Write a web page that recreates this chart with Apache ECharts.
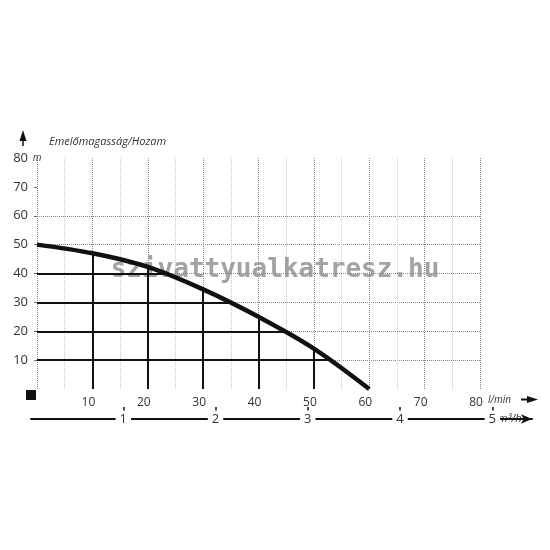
<!DOCTYPE html>
<html>
<head>
<meta charset="utf-8">
<script src="https://cdn.jsdelivr.net/npm/echarts@6/dist/echarts.min.js"></script>
<style>
html, body { margin: 0; padding: 0; background: #fff; }
#chart { width: 550px; height: 550px; }
</style>
</head>
<body>
<div id="chart"></div>
<script>
// pump curve: delivery height (m) vs flow (l/min)
var flowLpm = [0, 10, 20, 30, 40, 50, 60];
var headM = [50, 47, 42.3, 34.5, 25, 14, 0];

// solid guide lines under the curve
var dropX = [10, 20, 30, 40, 50];
var dropXTop = [47, 42.3, 34.5, 25, 14];
var dropY = [10, 20, 30, 40];
var dropYEnd = [52.5, 45, 35, 23];

// tick labels
var lpmLabels = [10, 20, 30, 40, 50, 60, 70, 80];
var headLabels = [10, 20, 30, 40, 50, 60, 70, 80];
var headTicks = [10, 20, 30, 40, 50, 60, 70];
var m3hLabels = [1, 2, 3, 4, 5];

var font = '"Open Sans", "Noto Sans", sans-serif';

var curve = flowLpm.map(function (x, i) { return [x, headM[i]]; });
var drops = [];
dropX.forEach(function (x, i) {
    drops.push([{ coord: [x, 0] }, { coord: [x, dropXTop[i]] }]);
});
dropY.forEach(function (y, i) {
    drops.push([{ coord: [0, y] }, { coord: [dropYEnd[i], y] }]);
});

var chart = echarts.init(document.getElementById('chart'), null, { renderer: 'canvas' });

chart.setOption({
    animation: false,
    backgroundColor: '#fff',
    title: {
        text: 'Emelőmagasság/Hozam',
        left: 44, top: 131,
        textStyle: { fontFamily: font, fontStyle: 'italic', fontWeight: 'normal', fontSize: 11, color: '#333' }
    },
    grid: [
        { left: 37, right: 70, top: 158, height: 231 },
        { left: 31, right: 18, top: 400, height: 19 }
    ],
    xAxis: [{
        gridIndex: 0, type: 'value', min: 0, max: 80, interval: 5,
        axisLine: { show: false },
        axisTick: { show: false },
        axisLabel: {
            customValues: lpmLabels, margin: 8, padding: [0, 8, 0, 0],
            fontFamily: font, fontSize: 12, color: '#333'
        },
        splitLine: {
            show: true,
            lineStyle: { type: 'dotted', width: 1, color: ['#888', '#c4c4c4'] }
        },
        name: 'l/min', nameLocation: 'end', nameGap: 8, nameMoveOverlap: false,
        nameTextStyle: { fontFamily: font, fontStyle: 'italic', fontSize: 10, color: '#333', verticalAlign: 'top', padding: [6, 0, 0, 0] }
    }, {
        gridIndex: 1, type: 'value', min: 0, max: 5.43, position: 'bottom',
        axisLine: {
            show: true, symbol: ['none', 'arrow'], symbolSize: [7, 11],
            lineStyle: { color: '#111', width: 2 }
        },
        axisTick: {
            show: true, customValues: m3hLabels, inside: true, length: 12,
            lineStyle: { color: '#111', width: 1.5 }
        },
        axisLabel: {
            customValues: m3hLabels, margin: 0, verticalAlign: 'middle',
            backgroundColor: '#fff', padding: [2, 4],
            fontFamily: font, fontSize: 13, color: '#333'
        },
        splitLine: { show: false },
        name: 'm³/h', nameLocation: 'end', nameGap: -35, nameMoveOverlap: false,
        nameTextStyle: { fontFamily: font, fontStyle: 'italic', fontSize: 11, color: '#333', align: 'left', verticalAlign: 'middle', backgroundColor: '#fff', padding: [3, 5, 3, 1] }
    }],
    yAxis: [{
        gridIndex: 0, type: 'value', min: 0, max: 80, interval: 10,
        axisLine: { show: false },
        axisTick: { show: true, customValues: headTicks, length: 3, lineStyle: { color: '#666' } },
        axisLabel: {
            customValues: headLabels, margin: 9,
            fontFamily: font, fontSize: 13, color: '#333'
        },
        splitLine: {
            show: true, showMaxLine: false,
            lineStyle: { type: 'dotted', width: 1, color: '#888' }
        },
        name: 'm', nameLocation: 'end', nameGap: 0, nameMoveOverlap: false,
        nameTextStyle: { fontFamily: font, fontStyle: 'italic', fontSize: 10, color: '#333', align: 'center', verticalAlign: 'middle' }
    }, {
        gridIndex: 1, type: 'value', show: false
    }],
    graphic: [
        // watermark
        {
            type: 'text', left: 'center', top: 257, z: 1, silent: true,
            style: {
                text: 'szivattyualkatresz.hu',
                font: 'bold 26px "DejaVu Sans Mono", monospace',
                fill: 'rgba(140,140,140,0.8)'
            }
        },
        // origin block
        { type: 'rect', shape: { x: 26, y: 390, width: 10, height: 10 }, style: { fill: '#111' } },
        // up arrow
        { type: 'polygon', shape: { points: [[23, 130], [26.5, 141], [19.5, 141]] }, style: { fill: '#111' } },
        { type: 'line', shape: { x1: 23, y1: 140, x2: 23, y2: 146 }, style: { stroke: '#111', lineWidth: 1.5 } },
        // l/min arrow
        { type: 'line', shape: { x1: 521, y1: 399.5, x2: 530, y2: 399.5 }, style: { stroke: '#111', lineWidth: 2 } },
        { type: 'polygon', shape: { points: [[527, 396], [538, 399.5], [527, 403]] }, style: { fill: '#111' } }
    ],
    series: [{
        name: 'guides', type: 'line', xAxisIndex: 0, yAxisIndex: 0, data: [], z: 2,
        markLine: {
            silent: true, symbol: ['none', 'none'],
            label: { show: false },
            lineStyle: { type: 'solid', color: '#111', width: 2 },
            emphasis: { disabled: true },
            data: drops
        }
    }, {
        name: 'Emelőmagasság', type: 'line', xAxisIndex: 0, yAxisIndex: 0, z: 3,
        data: curve, smooth: 0.35, showSymbol: false, symbol: 'none',
        lineStyle: { color: '#111', width: 4.5 }
    }]
});
</script>
</body>
</html>
